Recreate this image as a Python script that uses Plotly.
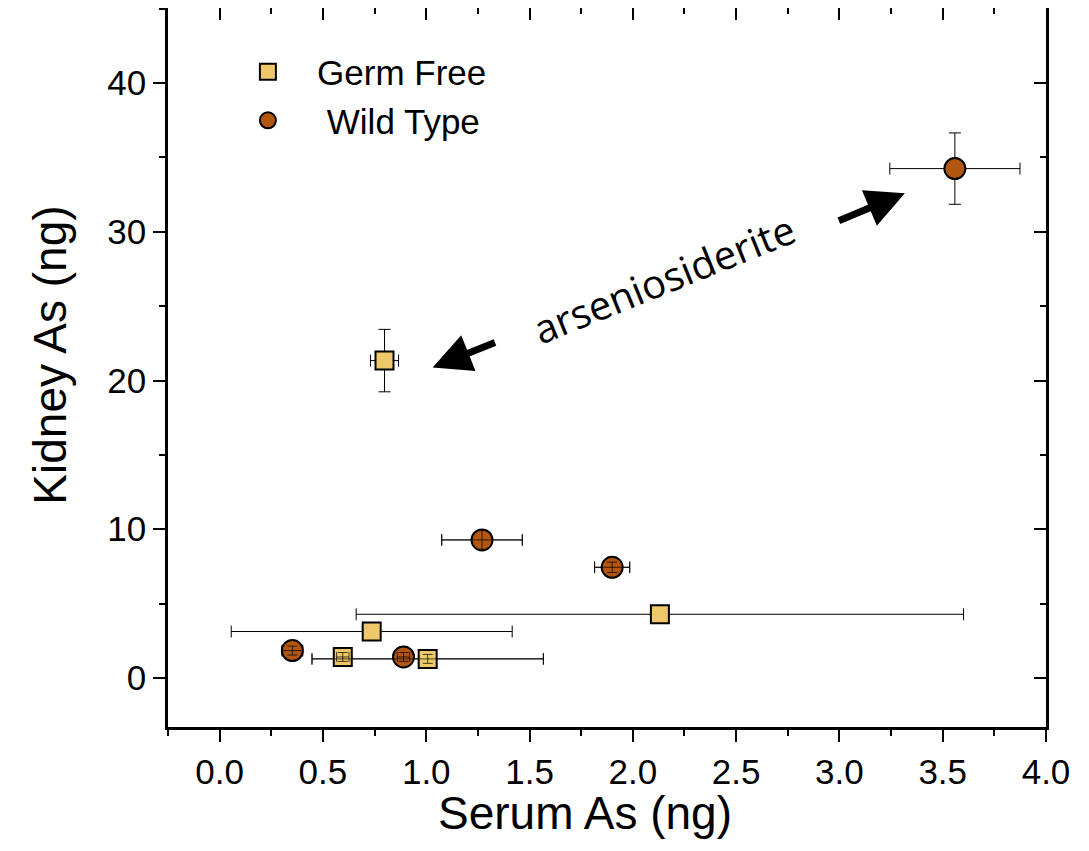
import plotly.graph_objects as go

# Germ Free (squares)
gf_x = [0.798, 2.131, 0.736, 0.596, 1.007]
gf_y = [21.34, 4.28, 3.12, 1.41, 1.28]
gf_xerr = [0.068, 1.47, 0.68, 0.03, 0.56]
gf_yerr = [2.1, 0.2, 0.2, 0.3, 0.3]

# Wild Type (circles)
wt_x = [3.559, 1.270, 1.900, 0.890, 0.352]
wt_y = [34.25, 9.28, 7.44, 1.41, 1.84]
wt_xerr = [0.315, 0.195, 0.085, 0.03, 0.05]
wt_yerr = [2.4, 0.63, 0.35, 0.3, 0.3]

# small error bars drawn over the markers
small_gf = [3, 4]
small_wt = [1, 2, 3, 4]

gf_color = "#EFC86B"
wt_color = "#B3560F"
font_main = "Liberation Sans, Arial, sans-serif"
nb = "\u00a0"

fig = go.Figure()

err = dict(color="black", thickness=1, width=6)

fig.add_trace(go.Scatter(
    x=gf_x, y=gf_y, mode="markers", name=nb * 3 + "Germ Free",
    marker=dict(symbol="square", size=18, color=gf_color, line=dict(color="black", width=2)),
    error_x=dict(type="data", array=gf_xerr, **err),
    error_y=dict(type="data", array=gf_yerr, **err)))

fig.add_trace(go.Scatter(
    x=wt_x, y=wt_y, mode="markers", name=nb * 4 + "Wild Type",
    marker=dict(symbol="circle", size=21, color=wt_color, line=dict(color="black", width=2)),
    error_x=dict(type="data", array=wt_xerr, **err),
    error_y=dict(type="data", array=wt_yerr, **err)))

# overlay of the tiny error bars (visible inside the markers)
fig.add_trace(go.Scatter(
    x=[gf_x[i] for i in small_gf] + [wt_x[i] for i in small_wt],
    y=[gf_y[i] for i in small_gf] + [wt_y[i] for i in small_wt],
    mode="markers", showlegend=False, hoverinfo="skip",
    marker=dict(size=1, color="rgba(0,0,0,0)"),
    error_x=dict(type="data", array=[gf_xerr[i] for i in small_gf] + [wt_xerr[i] for i in small_wt],
                 color="rgba(0,0,0,0.7)", thickness=1, width=5),
    error_y=dict(type="data", array=[gf_yerr[i] for i in small_gf] + [wt_yerr[i] for i in small_wt],
                 color="rgba(0,0,0,0.7)", thickness=1, width=5)))

# invisible trace for the mirrored axes
fig.add_trace(go.Scatter(x=[0], y=[0], xaxis="x2", yaxis="y2", mode="markers",
                         marker=dict(opacity=0), showlegend=False, hoverinfo="skip"))

xr = [-0.25, 4.0]
yr = [-3.3, 45.05]

tick_style = dict(showline=True, linecolor="black", linewidth=2.5,
                  tickwidth=2, tickcolor="black", ticklen=12,
                  showgrid=False, zeroline=False, automargin=False)

fig.update_layout(
    width=1089, height=851,
    margin=dict(l=160, r=51, t=0, b=132),
    plot_bgcolor="white", paper_bgcolor="white",
    font=dict(family=font_main, color="black", size=36),
    showlegend=True,
    legend=dict(x=0.091, y=0.952, xanchor="left", yanchor="top",
                font=dict(size=35), bgcolor="rgba(0,0,0,0)", itemsizing="trace",
                tracegroupgap=0),
    xaxis=dict(range=xr, tick0=0, dtick=0.5, tickformat=".1f", ticks="outside",
               minor=dict(dtick=0.25, tick0=0, ticks="outside", ticklen=6, tickwidth=2, tickcolor="black"),
               tickfont=dict(size=35), **tick_style),
    yaxis=dict(range=yr, tick0=0, dtick=10, ticks="outside",
               minor=dict(dtick=5, tick0=0, ticks="outside", ticklen=6, tickwidth=2, tickcolor="black"),
               tickfont=dict(size=35), **tick_style),
    xaxis2=dict(range=xr, overlaying="x", side="top", anchor="y", tick0=0, dtick=0.5, ticks="inside",
                minor=dict(dtick=0.25, tick0=0, ticks="inside", ticklen=6, tickwidth=2, tickcolor="black"),
                showticklabels=False, **tick_style),
    yaxis2=dict(range=yr, overlaying="y", side="right", anchor="x", tick0=0, dtick=10, ticks="inside",
                minor=dict(dtick=5, tick0=0, ticks="inside", ticklen=6, tickwidth=2, tickcolor="black"),
                showticklabels=False, **tick_style),
)

# axis titles
fig.add_annotation(text="Serum As (ng)", xref="paper", yref="paper", x=0.475, y=-0.119,
                   xanchor="center", yanchor="middle", showarrow=False, font=dict(size=46))
fig.add_annotation(text="Kidney As (ng)", xref="paper", yref="paper", x=-0.134, y=0.517,
                   xanchor="center", yanchor="middle", showarrow=False, textangle=-90,
                   font=dict(size=46))

# arrows and label
fig.add_annotation(x=1.031, y=20.88, ax=1.34, ay=22.6, xref="x", yref="y", axref="x", ayref="y",
                   text="", showarrow=True, arrowhead=2, arrowsize=1.1, arrowwidth=7, arrowcolor="black")
fig.add_annotation(x=3.317, y=32.6, ax=2.990, ay=30.7, xref="x", yref="y", axref="x", ayref="y",
                   text="", showarrow=True, arrowhead=2, arrowsize=1.1, arrowwidth=7, arrowcolor="black")
fig.add_annotation(x=2.150, y=26.83, xref="x", yref="y", text="arseniosiderite", showarrow=False,
                   textangle=-22, font=dict(family="Open Sans, sans-serif", size=40, color="black"))

fig.write_html("out.html")
